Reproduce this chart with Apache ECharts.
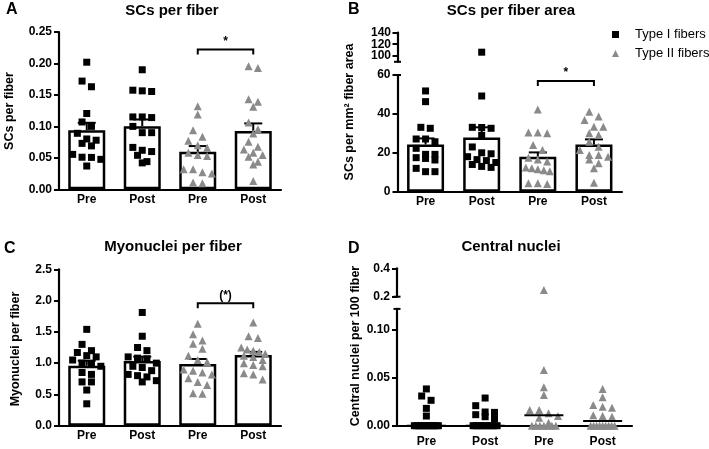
<!DOCTYPE html>
<html><head><meta charset="utf-8">
<script src="https://cdn.jsdelivr.net/npm/echarts@6/dist/echarts.min.js"></script>
<style>html,body{margin:0;padding:0;background:#fff}#c{width:709px;height:449px}</style>
</head><body><div id="c"></div>
<script>
const FONT = '"Liberation Sans", Arial, sans-serif';

// ---------- data ----------
const categories = ['Pre', 'Post', 'Pre', 'Post'];
const typeNames = ['Type I fibers', 'Type II fibers'];

// A: SCs per fiber
const scFiberMean = [0.094, 0.1004, 0.0597, 0.0925];
const scFiberSem = [0.0117, 0.0106, 0.0090, 0.0122];
const scFiberPreI = [0.202, 0.172, 0.163, 0.1205, 0.107, 0.100, 0.089, 0.080, 0.073, 0.069, 0.078, 0.0555, 0.051, 0.0507, 0.0476, 0.037];
const scFiberPostI = [0.190, 0.1565, 0.1554, 0.1575, 0.114, 0.115, 0.115, 0.100, 0.090, 0.090, 0.062, 0.054, 0.060, 0.0666, 0.042, 0.044];
const scFiberPreII = [0.132, 0.119, 0.094, 0.077, 0.0835, 0.070, 0.066, 0.058, 0.0544, 0.0528, 0.032, 0.027, 0.025, 0.032, 0.0095, 0.011];
const scFiberPostII = [0.1929, 0.1956, 0.139, 0.131, 0.143, 0.1062, 0.0956, 0.0888, 0.0755, 0.0676, 0.0634, 0.058, 0.0544, 0.0517, 0.0438, 0.0396, 0.0132];
const scFiberSig = { from: 2, to: 3, value: 0.222, label: '*' };
const scFiberTicks = [0, 0.05, 0.10, 0.15, 0.20, 0.25];

// B: SCs per fiber area
const scAreaMean = [24.3, 27.9, 18.0, 24.3];
const scAreaSem = [3.1, 5.2, 2.2, 2.6];
const scAreaPreI = [51.8, 46.3, 32.6, 33.1, 27.1, 25.7, 27.1, 19.2, 22.3, 17.5, 16.3, 17.1, 19.2, 12.0, 10.3, 10.3];
const scAreaPostI = [106.4, 49.2, 33.1, 32.6, 33.0, 29.0, 23.0, 20.0, 19.5, 18.0, 16.5, 16.0, 15.0, 14.0, 13.0, 12.5];
const scAreaPreII = [42.3, 30.5, 30.0, 30.5, 21.4, 24.0, 17.5, 16.5, 15.5, 12.5, 11.5, 11.0, 10.5, 12.0, 4.3, 3.9, 4.3];
const scAreaPostII = [41.1, 38.6, 36.8, 33.4, 33.4, 29.1, 30.0, 25.7, 23.1, 21.4, 18.9, 18.0, 18.9, 16.5, 14.6, 12.0, 4.6];
const scAreaSig = { from: 2, to: 3, value: 56.9, label: '*' };
const scAreaTicksLow = [0, 20, 40, 60];
const scAreaTicksHigh = [100, 120, 140];

// C: Myonuclei per fiber
const myoMean = [0.96, 1.034, 0.986, 1.13];
const myoSem = [0.08, 0.07, 0.08, 0.05];
const myoPreI = [1.54, 1.30, 1.20, 1.17, 1.12, 1.10, 1.05, 1.00, 0.98, 0.95, 0.82, 0.70, 0.70, 0.57, 0.35, 0.85];
const myoPostI = [1.81, 1.43, 1.25, 1.20, 1.10, 1.08, 1.07, 1.00, 0.95, 0.93, 0.88, 0.82, 0.80, 0.78, 0.72, 0.70];
const myoPreII = [1.63, 1.46, 1.36, 1.31, 1.23, 1.12, 1.05, 1.02, 0.90, 0.88, 0.85, 0.82, 0.76, 0.70, 0.65, 0.52, 0.51];
const myoPostII = [1.65, 1.43, 1.40, 1.25, 1.22, 1.20, 1.18, 1.15, 1.12, 1.10, 1.05, 1.00, 0.97, 0.95, 0.84, 0.82, 0.74];
const myoSig = { from: 2, to: 3, value: 1.957, label: '(*)' };
const myoTicks = [0, 0.5, 1.0, 1.5, 2.0, 2.5];

// D: Central nuclei (medians)
const centralMedian = [0, 0, 0.0108, 0.0049];
const centralPreI = [0.0384, 0.031, 0.0265, 0.0181, 0.0101, 0, 0, 0, 0, 0, 0, 0, 0, 0, 0, 0];
const centralPostI = [0.0289, 0.0209, 0.0143, 0.0139, 0.0115, 0.0094, 0.0073, 0, 0, 0, 0, 0, 0, 0, 0, 0];
const centralPreII = [0.247, 0.0582, 0.0401, 0.0321, 0.0164, 0.0164, 0.0129, 0.0101, 0.0084, 0.0031, 0, 0, 0, 0, 0, 0, 0];
const centralPostII = [0.0384, 0.0296, 0.0216, 0.0199, 0.0188, 0.0108, 0.0101, 0.0094, 0, 0, 0, 0, 0, 0, 0, 0, 0];
const centralTicksLow = [0, 0.05, 0.10];
const centralTicksHigh = [0.2, 0.4];

// ---------- layout ----------
const panels = [
  { letter: 'A', title: 'SCs per fiber', yName: 'SCs per fiber',
    left: 59, width: 222, catMargin: 4, letterX: 6, letterTop: 2, titleX: 172, titleTop: 3,
    yNameX: 10, yNameY: 111,
    segs: [{ top: 32, bottom: 189.3, min: 0, max: 0.25, ticks: scFiberTicks, dec: 2 }],
    mean: scFiberMean, sem: scFiberSem, groups: [scFiberPreI, scFiberPostI, scFiberPreII, scFiberPostII], sig: scFiberSig },
  { letter: 'B', title: 'SCs per fiber area', yName: 'SCs per mm\u00b2 fiber area',
    left: 397.5, width: 224.5, catMargin: 4, letterX: 348, letterTop: 2, titleX: 511, titleTop: 3,
    yNameX: 350, yNameY: 112,
    segs: [{ top: 75, bottom: 191.7, min: 0, max: 60, ticks: scAreaTicksLow, dec: 0 },
           { top: 32.5, bottom: 61.8, min: 90, max: 140, ticks: scAreaTicksHigh, dec: 0, denseLabels: true }],
    mean: scAreaMean, sem: scAreaSem, groups: [scAreaPreI, scAreaPostI, scAreaPreII, scAreaPostII], sig: scAreaSig },
  { letter: 'C', title: 'Myonuclei per fiber', yName: 'Myonuclei per fiber',
    left: 59, width: 222, catMargin: 4, letterX: 4, letterTop: 241, titleX: 173, titleTop: 239.5,
    yNameX: 16, yNameY: 349,
    segs: [{ top: 269.3, bottom: 425.7, min: 0, max: 2.5, ticks: myoTicks, dec: 1 }],
    mean: myoMean, sem: myoSem, groups: [myoPreI, myoPostI, myoPreII, myoPostII], sig: myoSig },
  { letter: 'D', title: 'Central nuclei', yName: 'Central nuclei per 100 fiber',
    left: 397, width: 235, catMargin: 10, letterX: 348, letterTop: 241, titleX: 511, titleTop: 239.5,
    yNameX: 356, yNameY: 346,
    segs: [{ top: 308.9, bottom: 425.7, min: 0, max: 0.122, ticks: centralTicksLow, dec: 2 },
           { top: 268.3, bottom: 296.7, min: 0.2, max: 0.4, ticks: centralTicksHigh, dec: 1 }],
    median: centralMedian, groups: [centralPreI, centralPostI, centralPreII, centralPostII] }
];

const BLACK = '#000';
const GRAY = '#8a8a8a';
const LABEL_FONT = 'bold 12px ' + FONT;
const grid = [], xAxis = [], yAxis = [];

panels.forEach(p => {
  p.gi = [];
  p.segs.forEach((s, si) => {
    const g = grid.length;
    p.gi.push(g);
    grid.push({ left: p.left, top: s.top, width: p.width, height: s.bottom - s.top });
    xAxis.push({ type: 'category', gridIndex: g, data: categories, show: si === 0,
      axisLine: { onZero: false, lineStyle: { color: BLACK, width: 2.2 } },
      axisTick: { show: false },
      axisLabel: { color: BLACK, fontFamily: FONT, fontWeight: 'bold', fontSize: 12, margin: p.catMargin } });
    xAxis.push({ type: 'value', gridIndex: g, min: -0.5, max: 3.5, show: false });
    yAxis.push({ type: 'value', gridIndex: g, min: s.min, max: s.max,
      splitLine: { show: false },
      axisLine: { show: true, onZero: false, lineStyle: { color: BLACK, width: 2.2 } },
      axisTick: { show: true, length: 5, customValues: s.ticks, lineStyle: { color: BLACK, width: 2 } },
      axisLabel: { show: !s.denseLabels, customValues: s.ticks, hideOverlap: false, showMinLabel: true, showMaxLabel: true,
        color: BLACK, fontFamily: FONT, fontWeight: 'bold', fontSize: 12, margin: 7,
        formatter: v => Number(v).toFixed(s.dec) } });
  });
});

const title = [];
panels.forEach(p => {
  title.push({ text: p.letter, left: p.letterX, top: p.letterTop, padding: 0,
    textStyle: { fontSize: 16, fontWeight: 'bold', fontFamily: FONT, color: BLACK } });
  title.push({ text: p.title, left: p.titleX, top: p.titleTop, padding: 0, textAlign: 'center',
    textStyle: { fontSize: 15, fontWeight: 'bold', fontFamily: FONT, color: BLACK } });
});

const graphic = panels.map(p => ({ type: 'text', x: p.yNameX, y: p.yNameY, rotation: Math.PI / 2,
  style: { text: p.yName, font: 'bold 12.5px ' + FONT, fill: BLACK,
    align: 'center', verticalAlign: 'middle', textAlign: 'center', textVerticalAlign: 'middle' } }));

const chart = echarts.init(document.getElementById('c'), null, { renderer: 'canvas' });
chart.setOption({ animation: false, backgroundColor: '#fff', title, grid, xAxis, yAxis, graphic });

// ---------- scatter spreading: rows of nearby values, centred (pixel offsets) ----------
function spread(values, pixY, rowH, spacing) {
  const order = values.map((v, i) => i).sort((a, b) => values[b] - values[a]);
  const off = new Array(values.length);
  let row = [], rowY = null;
  const flush = () => {
    const n = row.length;
    if (!n) return;
    const maxHalf = n <= 4 ? 1.5 * spacing : 12;
    const half = Math.min((n - 1) * spacing / 2, maxHalf);
    const step = n > 1 ? 2 * half / (n - 1) : 0;
    row.forEach((idx, j) => { off[idx] = -half + j * step; });
    row = [];
  };
  for (const i of order) {
    const y = pixY(values[i]);
    if (rowY === null || Math.abs(y - rowY) >= rowH) { flush(); rowY = y; }
    row.push(i);
  }
  flush();
  return off;
}

const series = [];
const lineStyle = { stroke: BLACK, lineWidth: 2 };

panels.forEach(p => {
  const gLow = p.gi[0];
  const low = p.segs[0];
  const catW = p.width / categories.length;
  const segOf = v => (p.segs.length > 1 && v > low.max) ? 1 : 0;
  const pixY = v => chart.convertToPixel({ yAxisIndex: p.gi[segOf(v)] }, v);

  // tick labels of short axis segments (drawn at the axis ticks through the axis scale)
  p.segs.forEach((s, si) => {
    if (!s.denseLabels) return;
    const g = p.gi[si];
    series.push({ type: 'custom', xAxisIndex: g * 2 + 1, yAxisIndex: g, z: 6, silent: true, clip: false,
      data: s.ticks.map(v => [-0.5, v]),
      renderItem: (params, api) => {
        const c = api.coord([api.value(0), api.value(1)]);
        return { type: 'text', style: { x: c[0] - 6.5, y: c[1], text: Number(api.value(1)).toFixed(s.dec), font: LABEL_FONT, fill: BLACK,
          align: 'right', verticalAlign: 'middle', textAlign: 'right', textVerticalAlign: 'middle' } };
      } });
  });

  if (p.mean) {
    series.push({ type: 'bar', xAxisIndex: gLow * 2, yAxisIndex: gLow, data: p.mean, barWidth: 37, z: 2, silent: true,
      itemStyle: { color: '#fff', borderColor: BLACK, borderWidth: 2.5 } });
    series.push({ type: 'custom', xAxisIndex: gLow * 2 + 1, yAxisIndex: gLow, z: 3, silent: true,
      data: p.mean.map((m, i) => [i, m, m + p.sem[i]]),
      renderItem: (params, api) => {
        const x = api.value(0);
        const a = api.coord([x, api.value(1)]);
        const b = api.coord([x, api.value(2)]);
        return { type: 'group', children: [
          { type: 'line', shape: { x1: a[0], y1: a[1], x2: b[0], y2: b[1] }, style: lineStyle },
          { type: 'line', shape: { x1: b[0] - 9, y1: b[1], x2: b[0] + 9, y2: b[1] }, style: lineStyle } ] };
      } });
  }
  if (p.median) {
    series.push({ type: 'custom', xAxisIndex: gLow * 2 + 1, yAxisIndex: gLow, z: 5, silent: true,
      data: p.median.map((m, i) => [i, m]),
      renderItem: (params, api) => {
        const c = api.coord([api.value(0), api.value(1)]);
        return { type: 'line', shape: { x1: c[0] - 19.5, y1: c[1], x2: c[0] + 19.5, y2: c[1] }, style: lineStyle };
      } });
  }
  if (p.sig) {
    const sig = p.sig;
    series.push({ type: 'custom', xAxisIndex: gLow * 2 + 1, yAxisIndex: gLow, z: 3, silent: true,
      data: [[sig.from, sig.to, sig.value]],
      renderItem: (params, api) => {
        const a = api.coord([api.value(0), api.value(2)]);
        const b = api.coord([api.value(1), api.value(2)]);
        return { type: 'group', children: [
          { type: 'polyline', shape: { points: [[a[0], a[1] + 5], a, b, [b[0], b[1] + 5]] }, style: { stroke: BLACK, lineWidth: 2, fill: null } },
          { type: 'text', style: { x: (a[0] + b[0]) / 2, y: a[1] - 2, text: sig.label, font: LABEL_FONT, fill: BLACK,
            align: 'center', verticalAlign: 'bottom', textAlign: 'center', textVerticalAlign: 'bottom' } } ] };
      } });
  }
  // axis break caps
  if (p.segs.length > 1) {
    [[0, low.max], [1, p.segs[1].min]].forEach(([si, v]) => {
      const g = p.gi[si];
      series.push({ type: 'custom', xAxisIndex: g * 2 + 1, yAxisIndex: g, z: 6, silent: true, clip: false,
        data: [[-0.5, v]],
        renderItem: (params, api) => {
          const c = api.coord([api.value(0), api.value(1)]);
          return { type: 'line', shape: { x1: c[0] - 3.5, y1: c[1], x2: c[0] + 3.5, y2: c[1] }, style: lineStyle };
        } });
    });
  }
  // scatter points
  const offsets = p.groups.map(vals => spread(vals, pixY, 7, 9.4));
  [0, 1].forEach(t => {
    p.segs.forEach((s, si) => {
      const data = [];
      [t * 2, t * 2 + 1].forEach(ci => {
        p.groups[ci].forEach((v, k) => {
          if (segOf(v) === si) data.push([ci + offsets[ci][k] / catW, v]);
        });
      });
      const g = p.gi[si];
      series.push({ type: 'scatter', name: typeNames[t], xAxisIndex: g * 2 + 1, yAxisIndex: g, data, clip: false, z: 4,
        silent: true,
        symbol: t === 0 ? 'rect' : 'triangle', symbolSize: t === 0 ? 7 : 8,
        itemStyle: { color: t === 0 ? BLACK : GRAY, opacity: 1 } });
    });
  });
});

chart.setOption({
  series,
  legend: { orient: 'vertical', left: 607, top: 23, itemWidth: 29, itemHeight: 7, itemGap: 6, selectedMode: false,
    symbolKeepAspect: true,
    textStyle: { fontFamily: FONT, fontSize: 13, color: BLACK },
    data: [
      { name: typeNames[0], icon: 'path://M0,0L10,0L10,10L0,10Z', itemStyle: { color: BLACK } },
      { name: typeNames[1], icon: 'path://M5,0L10,10L0,10Z', itemStyle: { color: GRAY } } ] }
});
</script></body></html>
